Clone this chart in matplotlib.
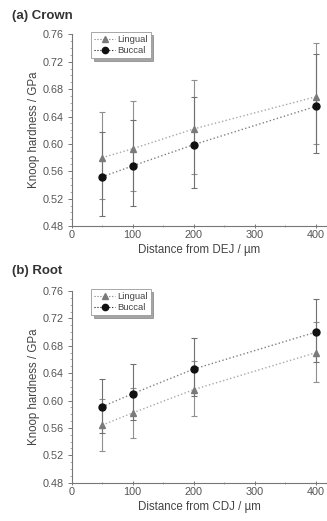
import numpy as np
import matplotlib
matplotlib.use('Agg')
import matplotlib.pyplot as plt
from matplotlib.ticker import MultipleLocator

# distances (um)
dist = [50, 100, 200, 400]

# (a) crown: means and error bar tips
crown_ling = [0.580, 0.593, 0.622, 0.669]
crown_ling_hi = [0.647, 0.663, 0.694, 0.747]
crown_ling_lo = [0.519, 0.532, 0.556, 0.600]
crown_bucc = [0.552, 0.568, 0.599, 0.655]
crown_bucc_hi = [0.617, 0.635, 0.669, 0.731]
crown_bucc_lo = [0.495, 0.509, 0.536, 0.587]

# (b) root
root_ling = [0.564, 0.582, 0.616, 0.670]
root_ling_hi = [0.602, 0.619, 0.658, 0.714]
root_ling_lo = [0.526, 0.545, 0.578, 0.627]
root_bucc = [0.591, 0.610, 0.646, 0.700]
root_bucc_hi = [0.632, 0.653, 0.691, 0.748]
root_bucc_lo = [0.553, 0.572, 0.607, 0.657]

yticks = [0.48, 0.52, 0.56, 0.60, 0.64, 0.68, 0.72, 0.76]

plt.rcParams['font.family'] = ['Liberation Sans', 'DejaVu Sans']

fig = plt.figure(figsize=(3.27, 5.21), dpi=100)


def panel(rect, ling, ling_hi, ling_lo, bucc, bucc_hi, bucc_lo, xlabel):
    ax = fig.add_axes(rect)
    ling = np.array(ling)
    bucc = np.array(bucc)
    ax.plot(dist, ling, ':', color='#a8a8a8', lw=1.0, zorder=2)
    ax.plot(dist, bucc, ':', color='#808080', lw=1.0, zorder=2)
    ax.errorbar(dist, ling, yerr=[ling - np.array(ling_lo), np.array(ling_hi) - ling],
                fmt='none', ecolor='#909090', elinewidth=0.8, capsize=2.5, capthick=0.8, zorder=3)
    ax.errorbar(dist, bucc, yerr=[bucc - np.array(bucc_lo), np.array(bucc_hi) - bucc],
                fmt='none', ecolor='#707070', elinewidth=0.8, capsize=2.5, capthick=0.8, zorder=3)
    ax.plot(dist, ling, '^', color='#7a7a7a', ms=5, zorder=4)
    ax.plot(dist, bucc, 'o', color='#111111', ms=5, zorder=4)
    # legend handles
    hl, = ax.plot([], [], ':^', color='#7a7a7a', ms=4.5, lw=0.8, label='Lingual')
    hb, = ax.plot([], [], ':o', color='#111111', ms=4.5, lw=0.8, label='Buccal')
    leg = ax.legend(handles=[hl, hb], loc='upper left', bbox_to_anchor=(0.07, 1.02),
                    fontsize=6.8, frameon=True, fancybox=False, shadow=True,
                    handlelength=2.2, handletextpad=0.25, borderpad=0.3,
                    labelspacing=0.22, borderaxespad=0.2)
    leg.get_frame().set_edgecolor('#999999')
    leg.get_frame().set_linewidth(0.6)
    for t in leg.get_texts():
        t.set_color('#444444')

    ax.set_xlim(0, 418)
    ax.set_ylim(0.48, 0.76)
    ax.set_yticks(yticks)
    ax.set_yticklabels(['%.2f' % v for v in yticks])
    ax.xaxis.set_major_locator(MultipleLocator(100))
    ax.xaxis.set_minor_locator(MultipleLocator(50))
    ax.yaxis.set_minor_locator(MultipleLocator(0.01))
    ax.spines['top'].set_visible(False)
    ax.spines['right'].set_visible(False)
    for s in ['left', 'bottom']:
        ax.spines[s].set_color('#777777')
        ax.spines[s].set_linewidth(0.8)
    ax.tick_params(axis='y', which='major', direction='out', length=3, width=0.7, pad=2.5,
                   colors='#777777', labelcolor='#555555', labelsize=7.8)
    ax.tick_params(axis='y', which='minor', direction='out', length=1.5, width=0.5, colors='#888888')
    ax.tick_params(axis='x', which='major', direction='inout', length=3, width=0.7, pad=1.5,
                   colors='#777777', labelcolor='#555555', labelsize=7.8)
    ax.tick_params(axis='x', which='minor', direction='inout', length=2, width=0.5, colors='#888888')
    ax.set_xlabel(xlabel, fontsize=8.3, color='#444444', labelpad=3)
    ax.set_ylabel('Knoop hardness / GPa', fontsize=8.3, color='#444444', labelpad=2)
    ax.patch.set_alpha(0)
    return ax


panel([0.219, 0.566, 0.781, 0.368], crown_ling, crown_ling_hi, crown_ling_lo,
      crown_bucc, crown_bucc_hi, crown_bucc_lo, 'Distance from DEJ / µm')
panel([0.219, 0.0735, 0.781, 0.368], root_ling, root_ling_hi, root_ling_lo,
      root_bucc, root_bucc_hi, root_bucc_lo, 'Distance from CDJ / µm')

fig.text(0.037, 0.969, '(a) Crown', fontsize=9.5, fontweight='bold', color='#333333', va='center')
fig.text(0.037, 0.480, '(b) Root', fontsize=9.5, fontweight='bold', color='#333333', va='center')

fig.savefig('out.png', dpi=100)
